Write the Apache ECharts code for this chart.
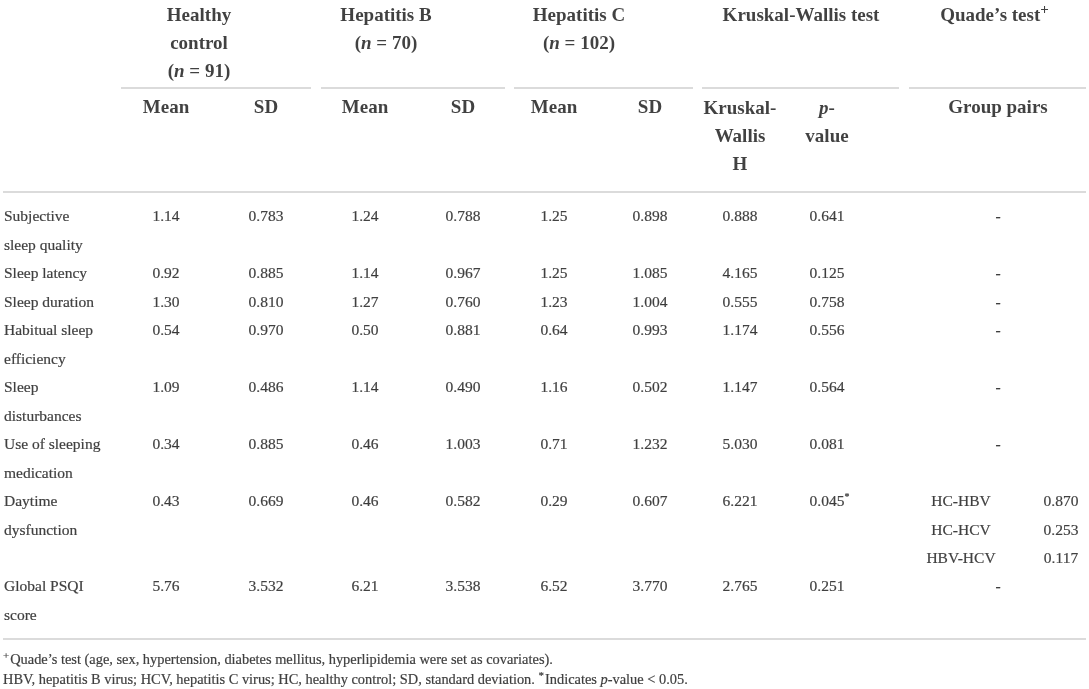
<!DOCTYPE html>
<html>
<head>
<meta charset="utf-8">
<title>PSQI components by group</title>
<script src="https://cdn.jsdelivr.net/npm/echarts@6/dist/echarts.min.js"></script>
<style>
  html, body { margin: 0; padding: 0; background: #fff; }
  #chart { width: 1089px; height: 689px; }
</style>
</head>
<body>
<div id="chart"></div>
<script>
// table data
var components = ['Subjective\nsleep quality', 'Sleep latency', 'Sleep duration', 'Habitual sleep\nefficiency',
  'Sleep\ndisturbances', 'Use of sleeping\nmedication', 'Daytime\ndysfunction', 'Global PSQI\nscore'];
var groupNames = ['Healthy\ncontrol', 'Hepatitis B', 'Hepatitis C'];
var groupN = [91, 70, 102];
var hcMean = [1.14, 0.92, 1.30, 0.54, 1.09, 0.34, 0.43, 5.76];
var hcSd = [0.783, 0.885, 0.810, 0.970, 0.486, 0.885, 0.669, 3.532];
var hbvMean = [1.24, 1.14, 1.27, 0.50, 1.14, 0.46, 0.46, 6.21];
var hbvSd = [0.788, 0.967, 0.760, 0.881, 0.490, 1.003, 0.582, 3.538];
var hcvMean = [1.25, 1.25, 1.23, 0.64, 1.16, 0.71, 0.29, 6.52];
var hcvSd = [0.898, 1.085, 1.004, 0.993, 0.502, 1.232, 0.607, 3.770];
var kwH = [0.888, 4.165, 0.555, 1.174, 1.147, 5.030, 6.221, 2.765];
var kwP = [0.641, 0.125, 0.758, 0.556, 0.564, 0.081, 0.045, 0.251];
var quadePairs = ['HC-HBV', 'HC-HCV', 'HBV-HCV'];
var quadeP = [0.870, 0.253, 0.117];
var footnotes = [
  '{sup|+}Quade\u2019s test (age, sex, hypertension, diabetes mellitus, hyperlipidemia were set as covariates).',
  'HBV, hepatitis B virus; HCV, hepatitis C virus; HC, healthy control; SD, standard deviation. {sup|*}Indicates {i|p}-value < 0.05.'
];

// layout (x/y in the page's own units, read by the hidden axes)
var labelX = 4;
var groupX = [199, 386, 579];
var meanX = [166, 365, 554];
var sdX = [266, 463, 650];
var kwHX = 740, kwPX = 827, pairX = 961, pairPX = 1061, dashX = 998;
var kwTitleX = 801, quadeTitleX = 995;
var rowY = [217, 274, 303, 331, 388, 445, 502, 587];
var step = 28.5;

var font = "'Liberation Serif', 'DejaVu Serif', serif";
var ink = '#111';
var ruleColor = '#cfcfcf';

var headerItems = [], bodyItems = [], noteItems = [];

function put(list, x, y, text, align) {
  list.push({ value: [x, y], label: { formatter: text, align: align || 'center' } });
}
function putLines(list, x, y, text, align, gap) {
  text.split('\n').forEach(function (t, k) { put(list, x, y + k * gap, t, align); });
}

// header
groupNames.forEach(function (g, i) {
  var lines = g.split('\n').concat(['({i|n} = ' + groupN[i] + ')']);
  lines.forEach(function (t, k) { put(headerItems, groupX[i], 16 + k * 28, t); });
  put(headerItems, meanX[i], 108, 'Mean');
  put(headerItems, sdX[i], 108, 'SD');
});
put(headerItems, kwTitleX, 16, 'Kruskal-Wallis test');
put(headerItems, quadeTitleX, 16, 'Quade\u2019s test{sup|+}');
putLines(headerItems, kwHX, 109, 'Kruskal-\nWallis\nH', 'center', 28);
put(headerItems, kwPX, 109, '{i|p}-');
put(headerItems, kwPX, 137, 'value');
put(headerItems, dashX, 108, 'Group pairs');

// body
components.forEach(function (c, r) {
  var y = rowY[r];
  putLines(bodyItems, labelX, y, c, 'left', step);
  [hcMean, hbvMean, hcvMean].forEach(function (arr, i) { put(bodyItems, meanX[i], y, arr[r].toFixed(2)); });
  [hcSd, hbvSd, hcvSd].forEach(function (arr, i) { put(bodyItems, sdX[i], y, arr[r].toFixed(3)); });
  put(bodyItems, kwHX, y, kwH[r].toFixed(3));
  var sig = kwP[r] < 0.05;
  put(bodyItems, kwPX + (sig ? 3 : 0), y, kwP[r].toFixed(3) + (sig ? '{sup|*}' : ''));
  if (sig) {
    quadePairs.forEach(function (p, k) {
      put(bodyItems, pairX, y + k * step, p);
      put(bodyItems, pairPX, y + k * step, quadeP[k].toFixed(3));
    });
  } else {
    put(bodyItems, dashX, y, '-');
  }
});

footnotes.forEach(function (t, k) { put(noteItems, 3, 660 + k * 20, t, 'left'); });

// horizontal rules
var rules = [
  [[121, 88], [311, 88]], [[321, 88], [505, 88]], [[514, 88], [693, 88]],
  [[702, 88], [899, 88]], [[909, 88], [1086, 88]],
  [[3, 192], [1086, 192]], [[3, 639], [1086, 639]]
];

// sup: small glyph lifted by bottom padding inside the line box
function textSeries(items, size, weight, supSize, supLift) {
  return {
    type: 'scatter',
    silent: true,
    symbolSize: 1,
    itemStyle: { color: 'transparent' },
    data: items,
    label: {
      show: true,
      position: 'inside',
      verticalAlign: 'middle',
      color: ink,
      fontFamily: font,
      fontSize: size,
      fontWeight: weight,
      textBorderColor: ink,
      textBorderWidth: weight === 'bold' ? 0 : 0.2,
      rich: {
        i: { fontStyle: 'italic', fontFamily: font, fontSize: size, fontWeight: weight, color: ink,
             textBorderColor: ink, textBorderWidth: weight === 'bold' ? 0 : 0.2 },
        sup: { fontFamily: font, fontSize: supSize, fontWeight: weight, color: ink,
               padding: [0, 1, supLift, 0] }
      }
    }
  };
}

var chart = echarts.init(document.getElementById('chart'));
chart.setOption({
  animation: false,
  grid: { left: 0, right: 0, top: 0, bottom: 0 },
  xAxis: { type: 'value', min: 0, max: 1089, show: false },
  yAxis: { type: 'value', min: 0, max: 689, inverse: true, show: false },
  series: [
    {
      type: 'lines',
      coordinateSystem: 'cartesian2d',
      silent: true,
      lineStyle: { color: ruleColor, width: 1.5, opacity: 1 },
      data: rules.map(function (r) { return { coords: r }; })
    },
    textSeries(headerItems, 19, 'bold', 15, 12),
    textSeries(bodyItems, 15.5, 'normal', 10, 9),
    textSeries(noteItems, 14.4, 'normal', 11, 8)
  ]
});
</script>
</body>
</html>
